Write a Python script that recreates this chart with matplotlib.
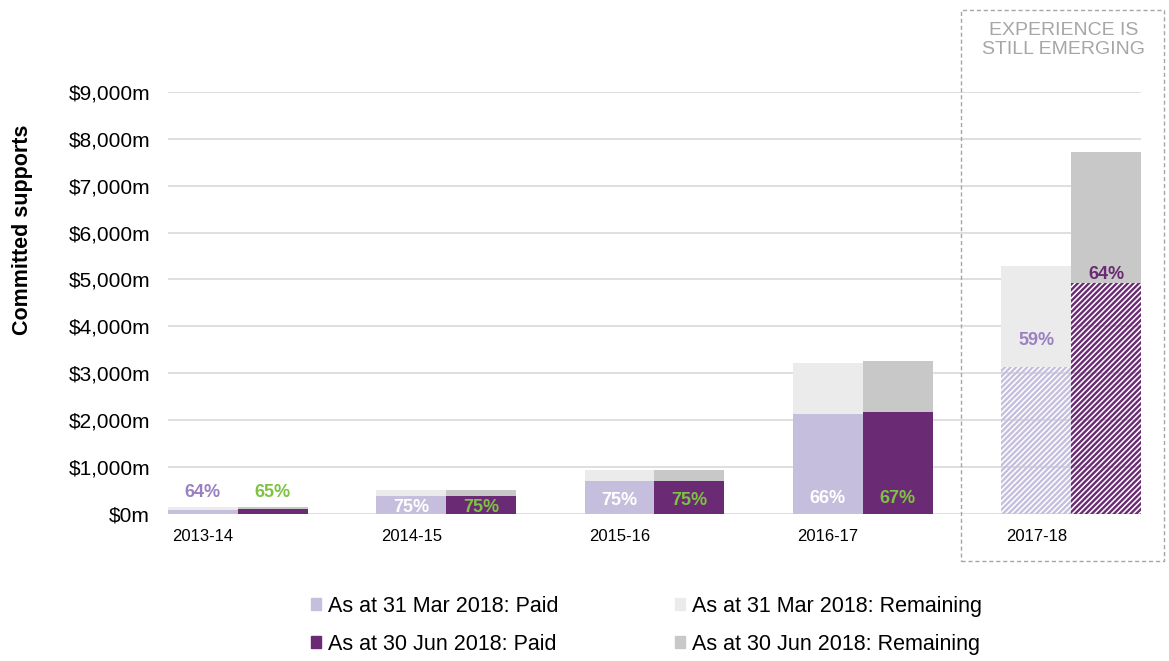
#committed supports by year, paid vs remaining at two valuation dates
import matplotlib.pyplot as plt
from matplotlib.patches import Rectangle, Patch
import numpy as np

plt.rcParams['font.family'] = ['Liberation Sans', 'DejaVu Sans']
plt.rcParams['hatch.linewidth'] = 1.7

## DATA ##
years = ["2013-14", "2014-15", "2015-16", "2016-17", "2017-18"]
mar_paid = [95, 380, 700, 2130, 3130]          # $m, as at 31 Mar 2018
mar_remaining = [55, 125, 230, 1095, 2160]
jun_paid = [100, 385, 705, 2165, 4925]         # $m, as at 30 Jun 2018
jun_remaining = [52, 127, 233, 1095, 2795]
mar_pct = ["64%", "75%", "75%", "66%", "59%"]
jun_pct = ["65%", "75%", "75%", "67%", "64%"]
emerging = [False, False, False, False, True]  # experience still emerging
## DATA ##

c_mar_paid = "#c5bfdd"
c_jun_paid = "#6b2a74"
c_mar_rem = "#ebebeb"
c_jun_rem = "#c8c8c8"
c_lab_purple = "#9a80c2"
c_lab_green = "#7dc242"

#how far (points) the in-bar labels sit above the base, per year
label_lift = [0, 5, 9.5, 11.5, 0]

fig = plt.figure(figsize=(11.69, 6.61), dpi=100)
ax = fig.add_axes([0.1437, 0.2224, 0.976 - 0.1437, 0.861 - 0.2224])

x = np.arange(len(years))
w = 0.335

for i in range(len(years)):
    if emerging[i]:
        #hatched paid bars, transparent background
        ax.bar(x[i] - w/2, mar_paid[i], w, facecolor="none", edgecolor=c_mar_paid,
               hatch="//////", linewidth=0, zorder=2)
        ax.bar(x[i] + w/2, jun_paid[i], w, facecolor="none", edgecolor=c_jun_paid,
               hatch="//////", linewidth=0, zorder=2)
    else:
        ax.bar(x[i] - w/2, mar_paid[i], w, color=c_mar_paid, zorder=2)
        ax.bar(x[i] + w/2, jun_paid[i], w, color=c_jun_paid, zorder=2)
ax.bar(x - w/2, mar_remaining, w, bottom=mar_paid, color=c_mar_rem, zorder=2)
ax.bar(x + w/2, jun_remaining, w, bottom=jun_paid, color=c_jun_rem, zorder=2)

#percentage labels
lab = dict(textcoords="offset points", ha="center", fontsize=13, fontweight="bold", zorder=3)
for i in range(len(years)):
    if i == 0:
        ax.annotate(mar_pct[i], (x[i] - w/2, mar_paid[i] + mar_remaining[i]), xytext=(0, 4),
                    va="bottom", color=c_lab_purple, **lab)
        ax.annotate(jun_pct[i], (x[i] + w/2, jun_paid[i] + jun_remaining[i]), xytext=(0, 4),
                    va="bottom", color=c_lab_green, **lab)
    elif emerging[i]:
        ax.annotate(mar_pct[i], (x[i] - w/2, mar_paid[i]), xytext=(0, 13),
                    va="bottom", color=c_lab_purple, **lab)
        ax.annotate(jun_pct[i], (x[i] + w/2, jun_paid[i]), xytext=(0, 0),
                    va="bottom", color=c_jun_paid, **lab)
    else:
        t1 = ax.annotate(mar_pct[i], (x[i] - w/2, 0), xytext=(0, label_lift[i]),
                         va="center", color="white", **lab)
        t2 = ax.annotate(jun_pct[i], (x[i] + w/2, 0), xytext=(0, label_lift[i]),
                         va="center", color=c_lab_green, **lab)
        t1.set_clip_on(True)
        t2.set_clip_on(True)

ax.set_xlim(-w, len(years) - 1 + w)
ax.set_ylim(0, 9000)
ticks = np.arange(0, 9001, 1000)
ax.set_yticks(ticks)
ax.set_yticklabels(["$%sm" % format(int(v), ",") for v in ticks], fontsize=15)
#category labels sit under the left bar of each pair
ax.set_xticks(x - w/2)
ax.set_xticklabels(years, fontsize=12)
ax.tick_params(axis="both", length=0)
ax.tick_params(axis="y", pad=13)
ax.tick_params(axis="x", pad=11)
ax.grid(axis="y", color="#d9d9d9", linewidth=1.2, zorder=0)
ax.set_axisbelow(True)
for s in ax.spines.values():
    s.set_visible(False)
fig.text(23/1169, 1 - 230/661, "Committed supports", rotation=90, ha="center", va="center",
         fontsize=15.5, fontweight="bold")

#dashed box round the latest year
box = Rectangle((961/1169, 1 - 561/661), (1164 - 961)/1169, (561 - 10)/661,
                transform=fig.transFigure, fill=False, edgecolor="#a6a6a6",
                linestyle=(0, (3, 2)), linewidth=1)
fig.add_artist(box)
fig.text(1064/1169, 1 - 40/661, "EXPERIENCE IS\nSTILL EMERGING", ha="center", va="center",
         color="#a6a6a6", fontsize=14, linespacing=1.2)

handles = [Patch(color=c_mar_paid), Patch(color=c_jun_paid),
           Patch(color=c_mar_rem), Patch(color=c_jun_rem)]
labels = ["As at 31 Mar 2018: Paid", "As at 30 Jun 2018: Paid",
          "As at 31 Mar 2018: Remaining", "As at 30 Jun 2018: Remaining"]
fig.legend(handles, labels, ncol=2, loc="center", bbox_to_anchor=(0.553, 0.054),
           frameon=False, fontsize=15.5, handlelength=0.45, handleheight=0.45,
           handletextpad=0.35, columnspacing=5.4, labelspacing=0.8)

fig.savefig("out.png", dpi=100)
